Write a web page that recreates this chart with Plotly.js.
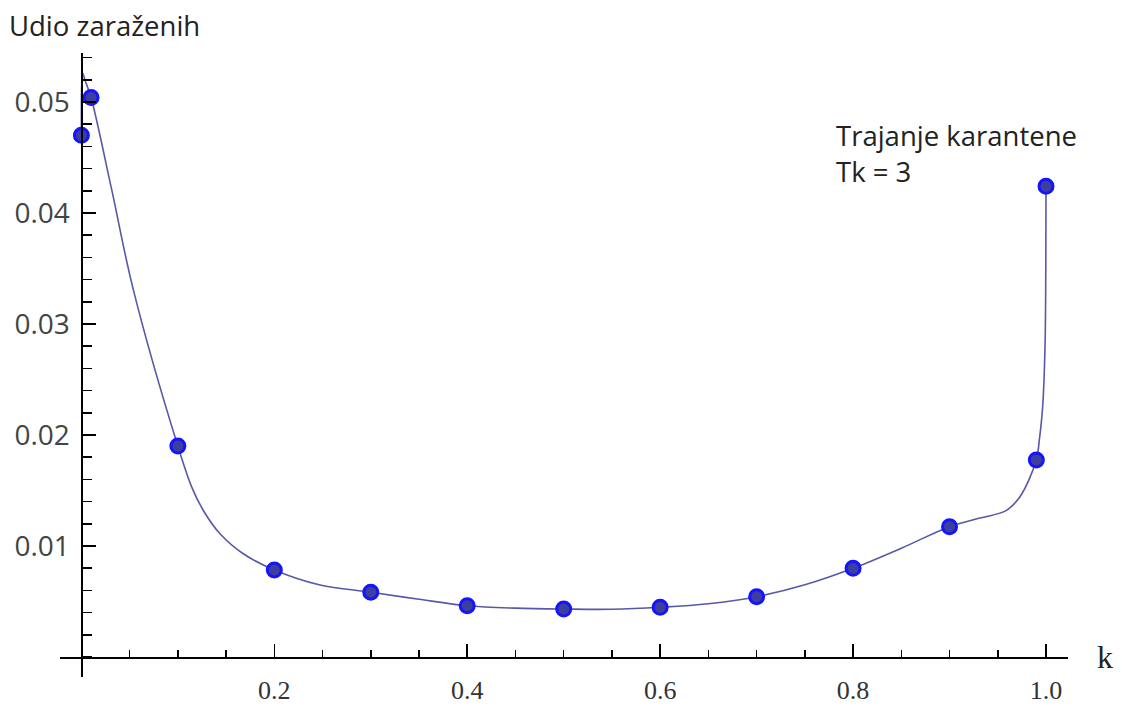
<!DOCTYPE html>
<html>
<head>
<meta charset="utf-8">
<script src="https://cdn.plot.ly/plotly-3.0.1.min.js"></script>
<style>html,body{margin:0;padding:0;background:#fff;}#chart{width:1122px;height:707px;}</style>
</head>
<body>
<div id="chart"></div>
<script>
// Measured points: k vs. share of infected (Tk = 3)
const kValues = [0, 0.01, 0.1, 0.2, 0.3, 0.4, 0.5, 0.6, 0.7, 0.8, 0.9, 0.99, 1.0];
const infectedShare = [0.0470, 0.0504, 0.0190, 0.00784, 0.00584, 0.00462, 0.00432, 0.00448, 0.00543, 0.00799, 0.01174, 0.01775, 0.0424];

// Smooth fitted curve
const curveK = [0, 0.0003, 0.0012, 0.004, 0.01, 0.0314, 0.0538, 0.1, 0.1144, 0.1264, 0.1437, 0.1678, 0.2, 0.2474, 0.3, 0.35, 0.4, 0.45, 0.5, 0.55, 0.6, 0.65, 0.7, 0.75, 0.8, 0.85, 0.9, 0.9315, 0.958, 0.973, 0.99, 0.993, 0.9965, 0.999, 0.9998, 1.0];
const curveShare = [0.0470, 0.0515, 0.0526, 0.0519, 0.0504, 0.0421, 0.0331, 0.0190, 0.0153, 0.0132, 0.0111, 0.0093, 0.00784, 0.00649, 0.00584, 0.0052, 0.00462, 0.0044, 0.00432, 0.0043, 0.00448, 0.0048, 0.00543, 0.0065, 0.00799, 0.0098, 0.01174, 0.01252, 0.01316, 0.01444, 0.01775, 0.0195, 0.0225, 0.028, 0.035, 0.0424];

const xTickVals = [0.2, 0.4, 0.6, 0.8, 1.0];
const xTickText = ["0.2", "0.4", "0.6", "0.8", "1.0"];
const yTickVals = [0.01, 0.02, 0.03, 0.04, 0.05];
const yTickText = ["0.01", "0.02", "0.03", "0.04", "0.05"];

const traces = [
  {
    x: curveK, y: curveShare, type: 'scatter', mode: 'lines',
    line: {color: 'rgb(88,88,168)', width: 1.6, shape: 'spline', smoothing: 1},
    hoverinfo: 'skip', showlegend: false
  },
  {
    x: kValues, y: infectedShare, type: 'scatter', mode: 'markers',
    marker: {size: 14, color: 'rgb(62,62,158)', line: {color: 'rgb(20,20,255)', width: 3}},
    showlegend: false, cliponaxis: false
  }
];

const layout = {
  width: 1122, height: 707,
  margin: {l: 60, r: 54, t: 53, b: 30},
  paper_bgcolor: '#fff', plot_bgcolor: '#fff',
  showlegend: false,
  hovermode: false,
  xaxis: {
    range: [-0.02219, 1.02281],
    anchor: 'free', position: 0.03205,
    showline: true, linecolor: '#000', linewidth: 1.6,
    showgrid: false, zeroline: false,
    tickmode: 'array', tickvals: xTickVals, ticktext: xTickText,
    ticks: 'inside', ticklen: 13, tickwidth: 1.5, tickcolor: '#000',
    ticklabelstandoff: 9,
    minor: {tickmode: 'linear', tick0: 0, dtick: 0.05, ticks: 'inside', ticklen: 7, tickwidth: 1.5, tickcolor: '#000', showgrid: false},
    tickfont: {family: 'Liberation Serif', size: 26, color: '#333'}
  },
  yaxis: {
    range: [-0.0018018, 0.054414],
    anchor: 'free', position: 0.02123,
    showline: true, linecolor: '#000', linewidth: 1.6,
    showgrid: false, zeroline: false,
    tickmode: 'array', tickvals: yTickVals, ticktext: yTickText,
    ticks: 'inside', ticklen: 13, tickwidth: 1.5, tickcolor: '#000',
    ticklabelstandoff: 6,
    minor: {tickmode: 'linear', tick0: 0, dtick: 0.002, ticks: 'inside', ticklen: 9, tickwidth: 1.5, tickcolor: '#000', showgrid: false},
    tickfont: {family: 'Open Sans', size: 28, color: '#444'}
  },
  annotations: [
    {text: 'Udio zaraženih', xref: 'paper', yref: 'paper', x: -0.053, y: 1.0, xanchor: 'left', yanchor: 'bottom', yshift: 7,
     showarrow: false, font: {family: 'Open Sans', size: 27.5, color: '#222'}},
    {text: 'k', xref: 'paper', yref: 'paper', x: 1.027, y: 0.0, xanchor: 'left', yanchor: 'bottom',
     showarrow: false, font: {family: 'Liberation Serif', size: 32, color: '#222'}},
    {text: 'Trajanje karantene<br>Tk = 3', xref: 'paper', yref: 'paper', x: 0.768, y: 0.9, xanchor: 'left', yanchor: 'top', align: 'left',
     showarrow: false, font: {family: 'Open Sans', size: 27.5, color: '#222'}}
  ]
};

Plotly.newPlot('chart', traces, layout, {displayModeBar: false, staticPlot: true});
</script>
</body>
</html>
